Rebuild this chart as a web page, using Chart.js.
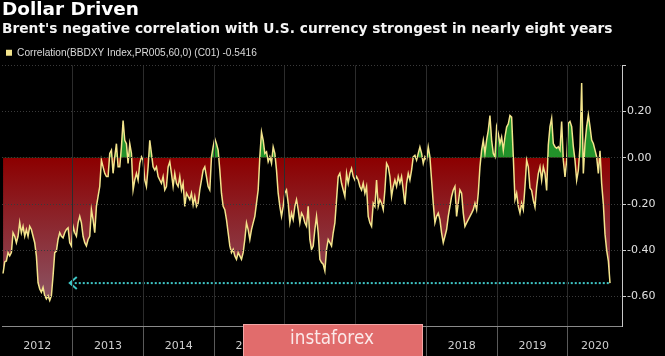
<!DOCTYPE html>
<html><head><meta charset="utf-8">
<script src="https://cdn.jsdelivr.net/npm/chart.js@4.4.1/dist/chart.umd.min.js"></script>
<style>html,body{margin:0;padding:0;background:#000;overflow:hidden}#wrap{width:665px;height:356px;position:relative}</style>
</head><body><div id="wrap"><canvas id="c"></canvas></div>
<script>
const titleText = 'Dollar Driven';
const subtitleText = "Brent's negative correlation with U.S. currency strongest in nearly eight years";
const seriesName = 'Correlation(BBDXY Index,PR005,60,0) (C01) -0.5416';
const yearLabels = ['2012','2013','2014','2015','2016','2017','2018','2019','2020'];
const yTickValues = [-0.6, -0.4, -0.2, 0, 0.2, 0.4];
const xMin = 2012, xMax = 2020.765, yMin = -0.727, yMax = 0.4;
const firstReading = 2012.0146;   // decimal year of first reading
const readingStep = 0.023574;     // years between readings
const correlation = [
-0.50,-0.45,-0.446,-0.41,-0.424,-0.41,-0.324,-0.339,-0.367,-0.339,
-0.279,-0.324,-0.296,-0.339,-0.31,-0.339,-0.296,-0.31,-0.339,-0.367,
-0.424,-0.539,-0.567,-0.581,-0.56,-0.596,-0.61,-0.596,-0.617,-0.596,
-0.51,-0.41,-0.403,-0.353,-0.324,-0.339,-0.346,-0.324,-0.31,-0.303,
-0.367,-0.381,-0.296,-0.324,-0.339,-0.281,-0.253,-0.281,-0.339,-0.367,
-0.381,-0.353,-0.339,-0.224,-0.267,-0.324,-0.21,-0.167,-0.124,-0.01,
-0.039,-0.067,-0.081,
-0.081,0.019,0.033,-0.067,0.004,0.061,-0.039,-0.039,0.047,0.161,
0.076,0.061,-0.024,0.061,0.019,-0.139,-0.096,-0.067,-0.096,-0.024,
0.004,-0.01,-0.096,-0.124,-0.039,0.076,0.019,-0.039,-0.053,-0.039,
-0.081,-0.096,-0.11,-0.081,-0.139,-0.124,-0.039,-0.017,-0.067,-0.124,
-0.067,-0.11,-0.124,-0.081,-0.139,-0.11,-0.21,-0.153,-0.167,-0.181,
-0.153,-0.203,-0.167,-0.21,-0.196,-0.139,-0.096,-0.053,-0.039,-0.081,
-0.124,-0.139,
0.004,0.047,0.083,0.061,0.033,-0.053,-0.153,-0.21,-0.224,-0.267,
-0.324,-0.381,-0.41,-0.396,-0.424,-0.439,-0.41,-0.424,-0.439,-0.41,
-0.353,-0.281,-0.31,-0.353,-0.31,-0.281,-0.253,-0.196,-0.139,0.004,
0.111,0.076,0.019,0.026,-0.017,0.004,-0.024,0.047,0.019,-0.053,
-0.153,-0.21,-0.253,-0.21,-0.153,-0.139,-0.196,-0.281,-0.239,-0.267,
-0.21,-0.181,-0.224,-0.281,-0.239,-0.253,-0.281,-0.296,-0.21,-0.353,
-0.396,-0.381,-0.31,
-0.253,-0.324,-0.439,-0.453,-0.46,-0.489,-0.396,-0.353,-0.367,-0.381,
-0.324,-0.281,-0.181,-0.081,-0.067,-0.11,-0.139,-0.167,-0.067,-0.11,
-0.067,-0.046,-0.081,-0.096,-0.081,-0.096,-0.124,-0.139,-0.11,-0.153,
-0.124,-0.253,-0.281,-0.296,-0.196,-0.21,-0.096,-0.21,-0.181,-0.196,
-0.224,-0.139,-0.024,-0.039,-0.081,-0.167,-0.124,-0.096,-0.124,-0.081,
-0.11,-0.081,-0.139,-0.203,-0.11,-0.067,-0.096,-0.053,0.004,0.011,
-0.01,0.019,0.047,
0.019,-0.024,0.004,-0.01,0.047,0.004,-0.096,-0.196,-0.281,-0.253,
-0.239,-0.267,-0.324,-0.367,-0.339,-0.31,-0.253,-0.21,-0.167,-0.139,
-0.124,-0.253,-0.196,-0.139,-0.153,-0.239,-0.296,-0.281,-0.267,-0.253,
-0.239,-0.224,-0.196,-0.224,-0.153,-0.039,0.033,0.076,0.019,0.076,
0.119,0.183,0.076,0.019,0.004,0.133,0.104,0.061,0.09,0.033,
0.09,0.133,0.147,0.183,0.176,0.004,-0.181,-0.153,-0.21,-0.239,
-0.196,-0.224,-0.124,-0.01,-0.039,-0.13,
-0.141,-0.184,-0.213,-0.126,-0.068,-0.039,-0.097,-0.039,-0.068,-0.141,
0.055,0.135,0.171,0.062,0.048,0.041,0.048,0.033,0.157,-0.01,
-0.083,-0.01,0.149,0.157,0.135,0.048,-0.01,-0.097,-0.054,0.048,
0.323,-0.068,0.062,0.135,0.186,0.135,0.077,0.062,0.033,0.004,
-0.068,0.03,-0.112,-0.2,-0.33,-0.4,-0.445,-0.5416
];
const dates = correlation.map((_, i) => firstReading + i * readingStep);
const latestValue = correlation[correlation.length - 1];
const arrowFrom = 2012.958;   // where the comparison arrow points (2012 low)
const watermarkText = 'instaforex';

// label positions: centred in each year interval (last interval clipped by axis end)
const yearBoundaries = yearLabels.map(Number);
const labelPositions = yearBoundaries.map((y, i) => i < yearBoundaries.length - 1 ? y + 0.5 : (y + xMax) / 2);
const xTickValues = [...yearBoundaries, ...labelPositions].sort((a, b) => a - b);

function fitSize(text, family, weight, target) {
  const c = document.createElement('canvas').getContext('2d');
  c.font = `${weight} 100px ${family}`;
  return 100 * target / c.measureText(text).width;
}
const titleSize = fitSize(titleText, '"DejaVu Sans"', 'bold', 137);
const subSize = fitSize(subtitleText, '"DejaVu Sans"', 'bold', 611);
const legSize = fitSize(seriesName, '"Liberation Sans"', 'normal', 240);

function redFill(chart) {
  const {chartArea, scales} = chart;
  if (!chartArea || !scales.y) return '#8e0000';
  const y0 = scales.y.getPixelForValue(0), y1 = scales.y.getPixelForValue(-0.62);
  const g = chart.ctx.createLinearGradient(0, y0, 0, y1);
  g.addColorStop(0, '#8c0000');
  g.addColorStop(1, '#8b5565');
  return g;
}

const bgPlugin = { id: 'bg', beforeDraw(chart) {
  const {ctx, width, height} = chart;
  ctx.save(); ctx.fillStyle = '#000'; ctx.fillRect(0, 0, width, height); ctx.restore();
}};

const arrowPlugin = { id: 'arrow', afterDatasetsDraw(chart) {
  const {ctx, scales: {x, y}} = chart;
  const yy = y.getPixelForValue(latestValue);
  const x0 = x.getPixelForValue(arrowFrom), x1 = x.getPixelForValue(dates[dates.length - 1]);
  ctx.save();
  ctx.strokeStyle = '#3ec6c6'; ctx.lineWidth = 2;
  ctx.setLineDash([2, 2]);
  ctx.beginPath(); ctx.moveTo(x0 + 1, yy); ctx.lineTo(x1, yy); ctx.stroke();
  ctx.setLineDash([]);
  ctx.beginPath(); ctx.moveTo(x0 + 7, yy - 6); ctx.lineTo(x0, yy); ctx.lineTo(x0 + 7, yy + 6); ctx.stroke();
  ctx.restore();
}};

const watermarkPlugin = { id: 'wm', afterDraw(chart) {
  const {ctx} = chart;
  ctx.save();
  ctx.fillStyle = '#e16c6c';
  ctx.fillRect(243.5, 324.5, 179, 32);
  ctx.strokeStyle = '#f2a6a6'; ctx.lineWidth = 1;
  ctx.strokeRect(243.5, 324.5, 179, 32);
  ctx.fillStyle = '#fbe9e9';
  ctx.font = '19px "DejaVu Sans"';
  ctx.textAlign = 'center'; ctx.textBaseline = 'middle';
  const w = ctx.measureText(watermarkText).width;
  ctx.translate(332, 339);
  ctx.scale(84 / w, 1);
  ctx.fillText(watermarkText, 0, 0);
  ctx.restore();
}};

new Chart(document.getElementById('c'), {
  type: 'line',
  data: { datasets: [{
    label: seriesName,
    data: dates.map((d, i) => ({x: d, y: correlation[i]})),
    borderColor: '#f3e48c',
    borderWidth: 1.5,
    pointRadius: 0,
    tension: 0,
    fill: {target: {value: 0}, above: '#22922a'},
    backgroundColor: ctx => redFill(ctx.chart)
  }]},
  options: {
    responsive: true, maintainAspectRatio: false, animation: false, devicePixelRatio: 1,
    layout: {padding: {left: 2, right: 0, top: 0, bottom: 0}},
    plugins: {
      title: {display: true, text: titleText, align: 'start', color: '#ffffff',
        font: {family: 'DejaVu Sans', weight: 'bold', size: titleSize, lineHeight: 21 / titleSize},
        padding: {top: 0, bottom: 1}},
      subtitle: {display: true, text: subtitleText, align: 'start', color: '#f4f4f4',
        font: {family: 'DejaVu Sans', weight: 'bold', size: subSize, lineHeight: 1},
        padding: {top: 0.25, bottom: 7.75}},
      legend: {display: true, align: 'start', maxHeight: 21.5,
        labels: {boxWidth: 6, boxHeight: 6, padding: 4, color: '#dadada',
          font: {family: 'Liberation Sans', size: legSize},
          generateLabels: () => [{text: seriesName, fillStyle: '#f3e48c', strokeStyle: '#f3e48c', lineWidth: 0, hidden: false, datasetIndex: 0, fontColor: '#dadada'}]}},
      tooltip: {enabled: false}
    },
    scales: {
      x: {
        type: 'linear', min: xMin, max: xMax,
        afterBuildTicks: s => { s.ticks = xTickValues.map(v => ({value: v})); },
        afterFit: s => { s.height = 30; },
        ticks: {autoSkip: false, maxRotation: 0, minRotation: 0, padding: -16, color: '#cfcfcf',
          font: {family: 'DejaVu Sans', size: 11},
          callback: v => { const i = labelPositions.indexOf(v); return i >= 0 ? yearLabels[i] : ''; }},
        grid: {
          z: 1,
          color: c => (c.tick && Number.isInteger(c.tick.value) && c.tick.value > xMin) ? '#2c2c2c' : 'rgba(0,0,0,0)',
          tickColor: c => (c.tick && Number.isInteger(c.tick.value) && c.tick.value > xMin) ? '#5a5a5a' : 'rgba(0,0,0,0)',
          tickLength: 30, lineWidth: 1
        },
        border: {display: true, color: '#8a8a8a', width: 1, z: 2}
      },
      y: {
        type: 'linear', position: 'right', min: yMin, max: yMax,
        afterBuildTicks: s => { s.ticks = yTickValues.map(v => ({value: v})); },
        afterFit: s => { s.width = 43; },
        ticks: {color: '#e0e0e0', padding: 1, font: {family: 'DejaVu Sans', size: 11},
          callback: v => v > 0.3 ? '' : v.toFixed(2)},
        grid: {z: 1, color: '#3a3a3a', tickColor: '#cfcfcf', tickLength: 4, lineWidth: 1},
        border: {display: true, color: '#c8c8c8', width: 1, dash: [1, 2], z: 2}
      }
    }
  },
  plugins: [bgPlugin, arrowPlugin, watermarkPlugin]
});
</script>
</body></html>
